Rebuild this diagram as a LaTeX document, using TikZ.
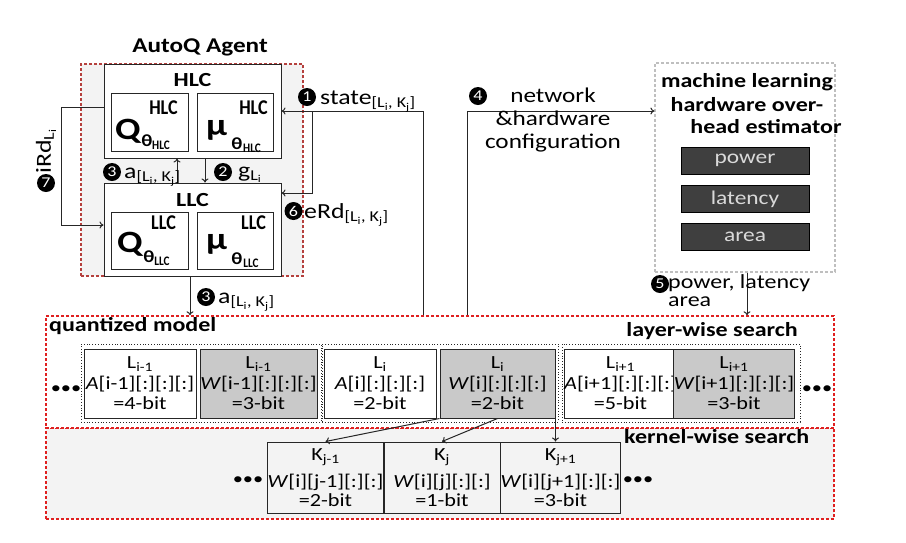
\documentclass[tikz,border=0pt]{standalone}
\usepackage{fontspec}
\usepackage{graphicx}
\setmainfont{Carlito}[FakeStretch=1.2]
\usetikzlibrary{calc,arrows.meta}
\definecolor{agentred}{HTML}{B5403D}
\definecolor{qred}{HTML}{E02020}
\definecolor{lgray}{HTML}{F3F3F3}
\definecolor{mgray}{HTML}{C9C9C9}
\definecolor{dgray}{HTML}{3F3F3F}
\definecolor{edge}{HTML}{262626}
\definecolor{estgray}{HTML}{BFBFBF}
\newcommand{\fs}[1]{\fontsize{#1}{#1}\selectfont}
\newcommand{\narrow}[1]{\scalebox{0.72}[1]{#1}}
\begin{document}
\begin{tikzpicture}[x=1pt,y=-1pt,
  arr/.style={draw=edge, line width=1pt, -{To[length=4pt,width=7pt]}},
  box/.style={draw=edge, line width=1pt, fill=white, inner sep=0pt},
  lbox/.style={box, minimum width=#1, minimum height=69pt, align=center, font=\fontsize{18.5}{20.5}\selectfont},
  gbox/.style={lbox=#1, fill=mgray},
  kbox/.style={box, fill=lgray, minimum width=115pt, minimum height=71pt, align=center, font=\fontsize{18.5}{19}\selectfont},
  grp/.style={draw=edge, dotted, line width=0.8pt, minimum height=78pt, inner sep=0pt},
  num/.style={circle, fill=black, text=white, inner sep=0pt, minimum size=18pt, font=\fs{15}},
  qbig/.style={inner sep=0pt, font=\bfseries\fs{31}},
  qsup/.style={inner sep=0pt, font=\bfseries\fs{21}},
  qth/.style={inner sep=0pt, font=\bfseries\fs{17}},
  qsub/.style={inner sep=0pt, font=\bfseries\fs{13}},
  lbl/.style={inner sep=0pt, font=\fs{21.5}},
  hdr/.style={inner sep=0pt, font=\bfseries\fs{20}},
  dbox/.style={draw=black, fill=dgray, text=black!15, minimum width=128pt, minimum height=27pt, inner sep=0pt, font=\fs{19.5}},
  dots/.style={inner sep=0pt, font=\fs{17}}
]
\useasboundingbox (0,0) rectangle (906,542);

% ---------------- agent ----------------
\node[hdr, font=\bfseries\fs{21}] (title) at (200,47) {AutoQ Agent};
\node[draw=agentred, dash pattern=on 3pt off 2pt, line width=1.3pt, fill=lgray,
      minimum width=222pt, minimum height=212pt, inner sep=0pt] (agent) at (192,170) {};

\node[box, minimum width=177pt, minimum height=94pt] (hlc) at (192.5,111) {};
\node[hdr] (hlct) at (192.5,80) {HLC};
\node[box, minimum width=77pt, minimum height=58pt] (hq) at (149.5,122) {};
\node[box, minimum width=76pt, minimum height=58pt] (hm) at (235,122) {};
\node[qbig] (hqQ) at (128,131) {Q};
\node[qsup] (hqS) at (163.5,107.5) {\narrow{HLC}};
\node[qth] (hqT) at (147,141) {θ};
\node[qsub] (hqB) at (161,145) {\narrow{HLC}};
\node[qbig] (hmM) at (216.5,130) {μ};
\node[qsup] (hmS) at (253.5,107.5) {\narrow{HLC}};
\node[qth] (hmT) at (237,144) {θ};
\node[qsub] (hmB) at (252,148) {\narrow{HLC}};

\node[box, minimum width=177pt, minimum height=93pt] (llc) at (192.5,229.5) {};
\node[hdr] (llct) at (192.5,200) {LLC};
\node[box, minimum width=77pt, minimum height=57pt] (lq) at (149.5,240.5) {};
\node[box, minimum width=76pt, minimum height=57pt] (lm) at (235,240.5) {};
\node[qbig] (lqQ) at (130,244) {Q};
\node[qsup] (lqS) at (163.5,222.5) {\narrow{LLC}};
\node[qth] (lqT) at (149,257) {θ};
\node[qsub] (lqB) at (162,261) {\narrow{LLC}};
\node[qbig] (lmM) at (216.5,244) {μ};
\node[qsup] (lmS) at (253.5,222.5) {\narrow{LLC}};
\node[qth] (lmT) at (237,259) {θ};
\node[qsub] (lmB) at (251,263) {\narrow{LLC}};

% between HLC and LLC
\draw[arr] ([xshift=12.5pt]hlc.south) -- ([xshift=12.5pt]llc.north);
\draw[arr] ([xshift=-15.5pt]llc.north) -- ([xshift=-15.5pt]hlc.south);
\node[num] (n3a) at (112,172) {3};
\node[lbl, anchor=base west] (a3a) at (124,178) {a\textsubscript{[L\textsubscript{i}, K\textsubscript{j}]}};
\node[num] (n2) at (223,172) {2};
\node[lbl, anchor=base west] (g2) at (238,177) {g\textsubscript{L\textsubscript{i}}};

% intrinsic reward loop
\draw[arr] ([yshift=4pt]hlc.west) -- ++(-42,0) |- ([yshift=4.5pt]llc.west);
\node[num] (n7) at (46,183) {7};
\node[lbl, rotate=90, anchor=west] (ird) at (46,174) {iRd\textsubscript{L\textsubscript{i}}};

% ---------------- quantized model region ----------------
\node[draw=qred, dash pattern=on 3pt off 2pt, line width=1.4pt, fill=lgray,
      minimum width=788pt, minimum height=91pt, inner sep=0pt] (kr) at (440,473.5) {};
\node[draw=qred, dash pattern=on 3pt off 2pt, line width=1.4pt, fill=white,
      minimum width=788pt, minimum height=112pt, inner sep=0pt] (qm) at (440,372) {};

\node[hdr, anchor=west] (qmt) at (49,326) {quantized model};
\node[hdr, anchor=east] (lws) at (798,331) {layer-wise search};
\node[hdr, anchor=west] (kws) at (624,437) {kernel-wise search};

% groups
\node[grp, minimum width=240pt] (g1) at (201,383) {};
\node[grp, minimum width=236pt] (g2b) at (440,383) {};
\node[grp, minimum width=238pt] (g3) at (681,383) {};

\node[lbox=112pt] (b1) at (140,383.5) {L\textsubscript{i-1}\\\textit{A}[i-1][:][:][:]\\=4-bit};
\node[gbox=117pt] (b2) at (258.5,383.5) {L\textsubscript{i-1}\\\textit{W}[i-1][:][:][:]\\=3-bit};
\node[lbox=112pt] (b3) at (380,383.5) {L\textsubscript{i}\\\textit{A}[i][:][:][:]\\=2-bit};
\node[gbox=115pt] (b4) at (497.5,383.5) {L\textsubscript{i}\\\textit{W}[i][:][:][:]\\=2-bit};
\node[lbox=111pt] (b5) at (620.5,383.5) {L\textsubscript{i+1}\\\textit{A}[i+1][:][:][:]\\=5-bit};
\node[gbox=116pt] (b6) at (734,383.5) {L\textsubscript{i+1}\\\textit{W}[i+1][:][:][:]\\=3-bit};
\node[dots] (dl) at (66,390) {•••};
\node[dots] (dr) at (817,390) {•••};

% kernels
\node[kbox] (k1) at (325.5,477.5) {K\textsubscript{j-1}\\[8pt]\textit{W}[i][j-1][:][:]\\=2-bit};
\node[kbox, minimum width=116pt] (k2) at (442,477.5) {K\textsubscript{j}\\[8pt]\textit{W}[i][j][:][:]\\=1-bit};
\node[kbox] (k3) at (560.5,477.5) {K\textsubscript{j+1}\\[8pt]\textit{W}[i][j+1][:][:]\\=3-bit};
\node[dots] (dkl) at (248,481) {•••};
\node[dots] (dkr) at (638,481) {•••};

\draw[arr] (b4.south west) -- (k1.north);
\draw[arr] (b4.south) -- (k2.north);
\draw[arr] (b4.south east) -- (b4.south east |- k1.north);

% LLC -> model
\coordinate (ax) at (190,290);
\draw[arr] (llc.south -| ax) -- (qm.north -| ax);
\node[num] (n3b) at (206,297) {3};
\node[lbl, anchor=base west] (a3b) at (218,303) {a\textsubscript{[L\textsubscript{i}, K\textsubscript{j}]}};

% state
\coordinate (sx) at (423,111);
\coordinate (sb) at (312,111);
\draw[arr] (sx |- qm.north) -- (sx) -- (hlc.east);
\draw[arr] (sb) |- ([yshift=36.5pt]llc.east);
\node[num] (n1) at (307,97) {1};
\node[lbl, anchor=base west] (st) at (320,104) {state\textsubscript{[L\textsubscript{i}, K\textsubscript{j}]}};
\node[num] (n6) at (293.5,211) {6};
\node[lbl, anchor=base west] (erd) at (304,218) {eRd\textsubscript{[L\textsubscript{i}, K\textsubscript{j}]}};

% estimator
\node[draw=estgray, dash pattern=on 3pt off 2pt, line width=1.2pt,
      minimum width=180pt, minimum height=209pt, inner sep=0pt] (est) at (745,167.5) {};
\node[hdr] (e1) at (747,82) {machine learning};
\node[hdr] (e2) at (747,105) {hardware over-};
\node[hdr] (e3) at (766,127) {head estimator};
\node[dbox] (pw) at (745,160.5) {power};
\node[dbox] (lt) at (745,199) {latency};
\node[dbox] (ar) at (745,237) {area};

% network
\coordinate (nx) at (467,111);
\draw[arr] (nx |- qm.north) -- (nx) -- (est.west |- nx);
\node[num] (n4) at (478,96) {4};
\node[lbl, align=center, font=\fontsize{21}{23}\selectfont] (net) at (553,120) {network\\\&hardware\\configuration};

% estimator -> model
\coordinate (ex) at (747,280);
\draw[arr] (est.south -| ex) -- (qm.north -| ex);
\node[num] (n5) at (660,284) {5};
\node[lbl, anchor=north west, align=left, font=\fontsize{20}{18.5}\selectfont] (pla) at (668,274) {power, latency\\area};
\end{tikzpicture}
\end{document}
